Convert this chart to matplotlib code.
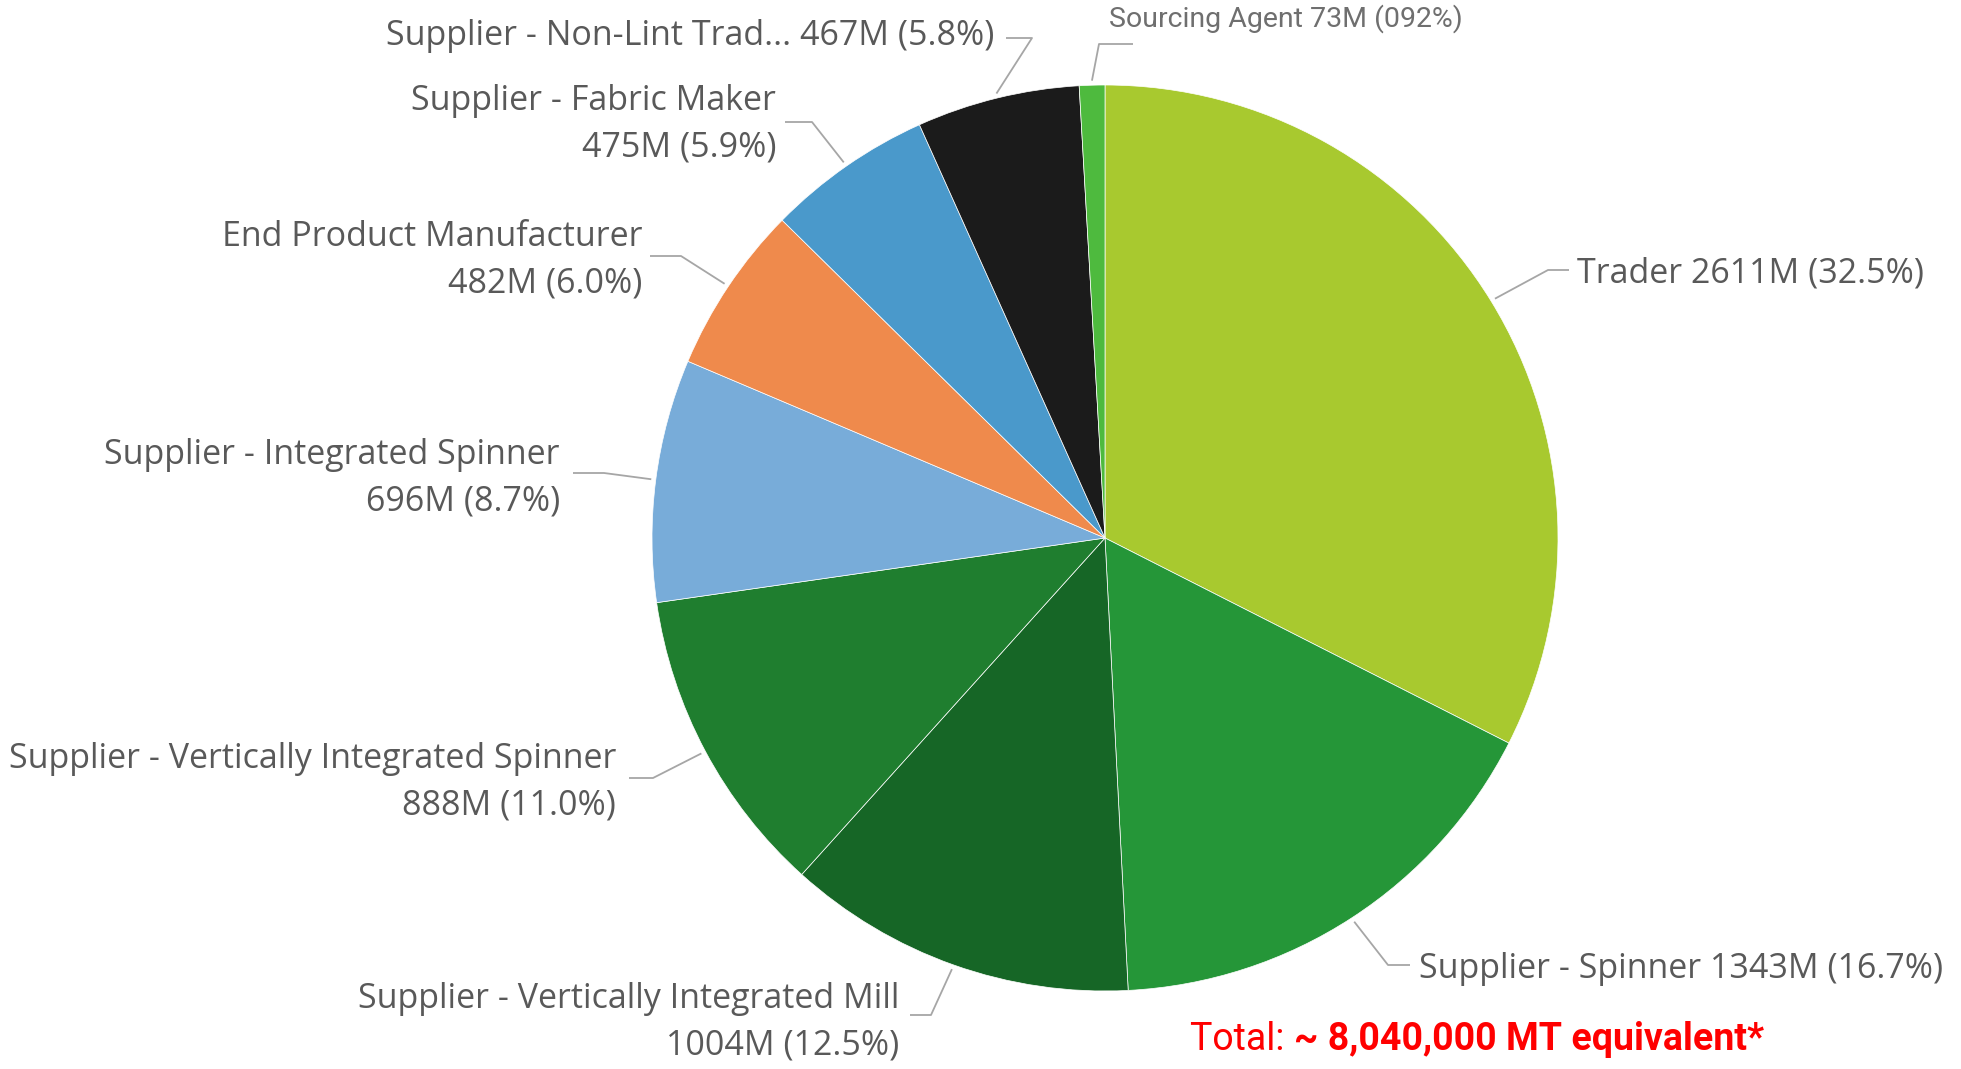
import numpy as np
import matplotlib
matplotlib.use('Agg')
import matplotlib.pyplot as plt

### DATA --------------------------------------------------------------------------
names = ['Trader', 'Supplier - Spinner', 'Supplier - Vertically Integrated Mill',
         'Supplier - Vertically Integrated Spinner', 'Supplier - Integrated Spinner',
         'End Product Manufacturer', 'Supplier - Fabric Maker',
         'Supplier - Non-Lint Trad...', 'Sourcing Agent']
values = [2611, 1343, 1004, 888, 696, 482, 475, 467, 73]
pct_labels = ['32.5%', '16.7%', '12.5%', '11.0%', '8.7%', '6.0%', '5.9%', '5.8%', '092%']
colors = ['#A8C92F', '#259638', '#166626', '#1F7E2F', '#78ACD9',
          '#EF8A4C', '#4A99CB', '#1B1B1B', '#4EBA3E']
total_text = '~ 8,040,000 MT equivalent*'
###--------------------------------------------------------------------------------

W, H = 1961, 1069
fig = plt.figure(figsize=(W / 100, H / 100), dpi=100)
ax = fig.add_axes([0, 0, 1, 1])

cx, cy, R = 1105, H - 538, 453
wedges, _ = ax.pie(values, colors=colors, startangle=90, counterclock=False,
                   center=(cx, cy), radius=R,
                   wedgeprops=dict(linewidth=0.5, edgecolor='white'))
ax.set_xlim(0, W)
ax.set_ylim(0, H)
ax.set_aspect('auto')
ax.axis('off')

# label layout: (elbow x, elbow y, line end x, text x, text y, ha, two lines?) in image px
layout = [
    (1548, 270, 1569, 1577, 274, 'left', False),
    (1388, 965, 1410, 1419, 969, 'left', False),
    (931, 1015, 910, 899, 1022, 'right', True),
    (653, 778, 629, 616, 782, 'right', True),
    (604, 473, 573, 560, 478, 'right', True),
    (681, 256, 650, 642, 260, 'right', True),
    (812, 122, 785, 776, 124, 'right', True),
    (1032, 38, 1006, 994, 36, 'right', False),
    (1099, 44, 1133, 1109, 19, 'left', False),
]

txt_col = '#595959'
line_col = '#A6A6A6'
font_main = 'Open Sans'

for i, (w, nm, v, p) in enumerate(zip(wedges, names, values, pct_labels)):
    ang = np.deg2rad((w.theta1 + w.theta2) / 2)
    x0 = cx + R * 1.01 * np.cos(ang)
    y0 = cy + R * 1.01 * np.sin(ang)
    ex, ey, lx, tx, ty, ha, two = layout[i]
    ax.plot([x0, ex, lx], [y0, H - ey, H - ey], color=line_col, lw=1.3,
            solid_capstyle='butt')
    if two:
        s = f'{nm}\n{v}M ({p})'
    else:
        s = f'{nm} {v}M ({p})'
    if nm == 'Sourcing Agent':
        ax.text(tx, H - ty, s, ha=ha, va='center', fontsize=20.5, color='#6f6f6f',
                family='Roboto')
    else:
        ax.text(tx, H - ty, s, ha=ha, va='center', fontsize=24.5, color=txt_col,
                family=font_main, linespacing=1.48, multialignment='right')

# total note
t1 = ax.text(1190, H - 1040, 'Total: ', ha='left', va='center', fontsize=27,
             color='#FF0000', family='Roboto')
fig.canvas.draw()
bb = t1.get_window_extent(renderer=fig.canvas.get_renderer())
ax.text(bb.x1, H - 1040, total_text, ha='left', va='center', fontsize=27,
        color='#FF0000', family='Roboto', fontweight='bold')

plt.savefig('out.png', dpi=100)
plt.close()
